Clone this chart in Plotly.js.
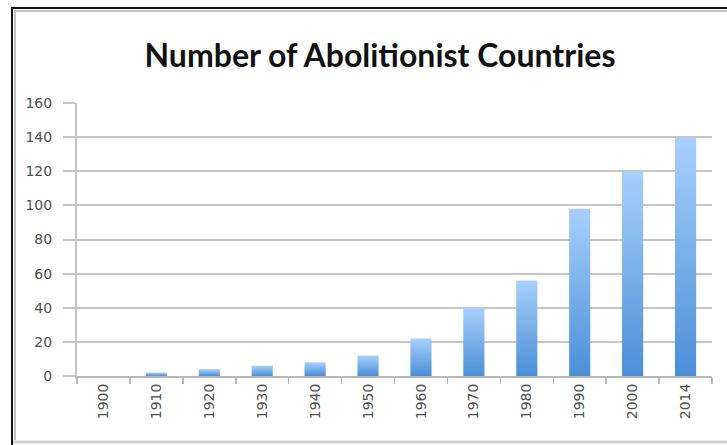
<!DOCTYPE html>
<html>
<head>
<meta charset="utf-8">
<script src="https://cdn.plot.ly/plotly-3.0.1.min.js"></script>
<style>
  html, body { margin: 0; padding: 0; background: #ffffff; overflow: hidden; }
  #chart { width: 727px; height: 445px; }
</style>
</head>
<body>
<div id="chart"></div>
<script>
const years = ["1900", "1910", "1920", "1930", "1940", "1950", "1960", "1970", "1980", "1990", "2000", "2014"];
const abolitionistCountries = [0, 2, 4, 6, 8, 12, 22, 40, 56, 98, 120, 140];
const chartTitle = "Number of Abolitionist Countries";

const W = 727, H = 445;
const M = { l: 77, r: 15, t: 103, b: 69 };
const pw = W - M.l - M.r, ph = H - M.t - M.b;
function px(xp) { return (xp - M.l) / pw; }
function py(yp) { return (H - M.b - yp) / ph; }

const trace = {
  type: "bar",
  x: years,
  y: abolitionistCountries,
  marker: { color: "#79aee8", line: { width: 0 } },
  hoverinfo: "x+y"
};

const layout = {
  width: W,
  height: H,
  paper_bgcolor: "#ffffff",
  plot_bgcolor: "rgba(0,0,0,0)",
  margin: { l: M.l, r: M.r, t: M.t, b: M.b, pad: 0 },
  bargap: 0.6,
  showlegend: false,
  title: {
    text: "<b>" + chartTitle + "</b>",
    font: { family: "Lato, 'Open Sans', sans-serif", size: 32, color: "#111111" },
    x: 380 / W, xanchor: "center", xref: "container",
    y: 1 - 56 / H, yanchor: "middle", yref: "container"
  },
  font: { family: "'DejaVu Sans', sans-serif", size: 14, color: "#555555" },
  shapes: [
    { type: "line", xref: "paper", yref: "paper", layer: "below",
      x0: px(14), x1: px(760), y0: py(11), y1: py(11), line: { color: "#c4c4c4", width: 2 } },
    { type: "line", xref: "paper", yref: "paper", layer: "below",
      x0: px(15), x1: px(15), y0: py(11), y1: py(440), line: { color: "#c4c4c4", width: 2 } },
    { type: "line", xref: "paper", yref: "paper", layer: "below",
      x0: px(11), x1: px(760), y0: py(8), y1: py(8), line: { color: "#111111", width: 2 } },
    { type: "line", xref: "paper", yref: "paper", layer: "below",
      x0: px(12), x1: px(12), y0: py(7), y1: py(446), line: { color: "#111111", width: 2 } },
    { type: "line", xref: "paper", yref: "paper", layer: "below",
      x0: px(13), x1: px(760), y0: py(442), y1: py(442), line: { color: "#cfcfcf", width: 3 } }
  ],
  xaxis: {
    type: "category",
    tickangle: -90,
    ticks: "outside",
    tickson: "boundaries",
    ticklen: 6,
    tickwidth: 1.5,
    tickcolor: "#b8b8b8",
    showline: true,
    linecolor: "#b8b8b8",
    linewidth: 2,
    showgrid: false,
    tickfont: { family: "'DejaVu Sans', sans-serif", size: 14, color: "#505050" },
    fixedrange: true
  },
  yaxis: {
    range: [0, 160],
    dtick: 20,
    tick0: 0,
    ticks: "outside",
    ticklen: 12,
    tickwidth: 2,
    tickcolor: "#c4c4c4",
    ticklabelstandoff: 8,
    showline: true,
    linecolor: "#c4c4c4",
    linewidth: 2,
    showgrid: true,
    gridcolor: "#c6c6c6",
    gridwidth: 2,
    zeroline: false,
    tickfont: { family: "'DejaVu Sans', sans-serif", size: 14, color: "#505050" },
    fixedrange: true
  }
};

function applyGradient(gd) {
  const svg = gd.querySelector(".main-svg");
  if (!svg) return;
  let defs = svg.querySelector("defs");
  if (!defs) {
    defs = document.createElementNS("http://www.w3.org/2000/svg", "defs");
    svg.insertBefore(defs, svg.firstChild);
  }
  if (!svg.querySelector("#barGrad")) {
    const ns = "http://www.w3.org/2000/svg";
    const g = document.createElementNS(ns, "linearGradient");
    g.setAttribute("id", "barGrad");
    g.setAttribute("x1", "0"); g.setAttribute("y1", "0");
    g.setAttribute("x2", "0"); g.setAttribute("y2", "1");
    const s1 = document.createElementNS(ns, "stop");
    s1.setAttribute("offset", "0"); s1.setAttribute("stop-color", "#a9cffc");
    const s2 = document.createElementNS(ns, "stop");
    s2.setAttribute("offset", "1"); s2.setAttribute("stop-color", "#4a8fd6");
    g.appendChild(s1); g.appendChild(s2);
    defs.appendChild(g);
  }
  gd.querySelectorAll(".barlayer .point path").forEach(function (p) {
    p.style.fill = "url(#barGrad)";
  });
}

const gd = document.getElementById("chart");
Plotly.newPlot(gd, [trace], layout, { displayModeBar: false, staticPlot: true }).then(function () {
  applyGradient(gd);
  gd.on && gd.on("plotly_afterplot", function () { applyGradient(gd); });
});
</script>
</body>
</html>
